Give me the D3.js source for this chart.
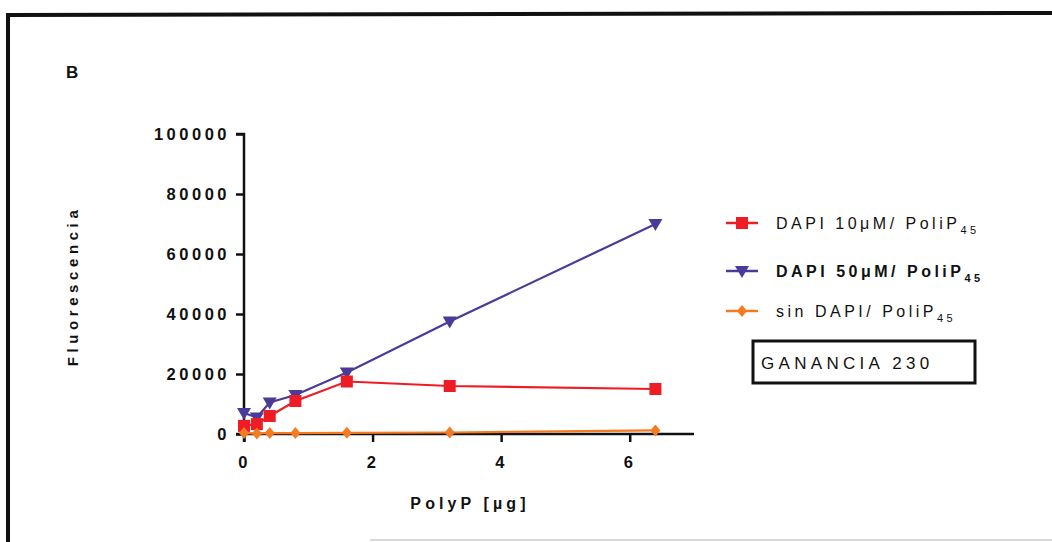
<!DOCTYPE html>
<meta charset="utf-8">
<script src="https://cdn.jsdelivr.net/npm/d3@7"></script>
<style>
body { margin: 0; background: #fff; }
text { font-family: "Liberation Sans", Arial, sans-serif; fill: #111; }
.tick text { font-weight: bold; font-size: 16.5px; letter-spacing: 3.5px; }
.title { font-weight: bold; font-size: 15px; letter-spacing: 4.6px; }
.leg { font-size: 16px; letter-spacing: 3.5px; }
</style>
<body>
<script>

// PolyP amount (µg)
var polyp = [0, 0.2, 0.4, 0.8, 1.6, 3.2, 6.4];
var dapi10 = [2700, 3300, 6000, 11000, 17500, 16000, 15000];
var dapi50 = [7000, 5500, 10500, 13000, 20500, 37500, 70000];
var sinDapi = [300, 200, 300, 300, 400, 500, 1200];

var xTicks = [0, 2, 4, 6];
var yTicks = [0, 20000, 40000, 60000, 80000, 100000];

var series = [
  {name: "DAPI 10\u03bcM/ PoliP", values: dapi10, color: "#ee1d25", symbol: "square", bold: false},
  {name: "DAPI 50\u03bcM/ PoliP", values: dapi50, color: "#4b3b98", symbol: "tri", bold: true},
  {name: "sin DAPI/ PoliP", values: sinDapi, color: "#f47b20", symbol: "diamond", bold: false}
];

var width = 1052, height = 542;

var svg = d3.select("body").append("svg")
    .attr("width", width)
    .attr("height", height);

// frame of the figure panel
svg.append("path")
    .attr("d", "M8,542 L8,15 L1052,13")
    .attr("fill", "none")
    .attr("stroke", "#111")
    .attr("stroke-width", 4);
svg.append("line")
    .attr("x1", 370).attr("x2", 1052)
    .attr("y1", 540).attr("y2", 540)
    .attr("stroke", "#ccc").attr("stroke-width", 1.5);

svg.append("text")
    .attr("x", 66).attr("y", 78)
    .style("font-weight", "bold").style("font-size", "17px")
    .text("B");

var x = d3.scaleLinear().domain([0, 7]).range([244, 694]);
var y = d3.scaleLinear().domain([0, 100000]).range([434, 134]);

var xAxis = svg.append("g")
    .attr("transform", "translate(0," + y(0) + ")")
    .call(d3.axisBottom(x).tickValues(xTicks).tickSize(8).tickPadding(14).tickFormat(d3.format("d")));
var yAxis = svg.append("g")
    .attr("transform", "translate(" + x(0) + ",0)")
    .call(d3.axisLeft(y).tickValues(yTicks).tickSize(8).tickPadding(6).tickFormat(d3.format("d")));

[xAxis, yAxis].forEach(function(g) {
  g.select(".domain").attr("stroke", "#111").attr("stroke-width", 2.5);
  g.selectAll(".tick line").attr("stroke", "#111").attr("stroke-width", 2.5);
  g.selectAll(".tick text").attr("fill", "#111");
});
yAxis.select(".domain").attr("d", "M-8," + y(100000) + "H0V" + (y(0) + 8));
xAxis.select(".domain").attr("d", "M" + (x(0) - 8) + ",0H" + x(7));

svg.append("text")
    .attr("class", "title")
    .attr("transform", "translate(78,286) rotate(-90)")
    .attr("text-anchor", "middle")
    .text("Fluorescencia");

svg.append("text")
    .attr("class", "title")
    .attr("x", 470).attr("y", 509)
    .attr("text-anchor", "middle")
    .style("font-size", "16px")
    .style("letter-spacing", "4.1px")
    .text("PolyP [\u00b5g]");

function marker(sel, s) {
  if (s.symbol == "square") {
    sel.append("rect").attr("x", -6).attr("y", -6).attr("width", 12).attr("height", 12).attr("fill", s.color);
  } else if (s.symbol == "tri") {
    sel.append("path").attr("d", "M-7,-5L7,-5L0,7Z").attr("fill", s.color);
  } else {
    sel.append("path").attr("d", "M0,-6L5,0L0,6L-5,0Z").attr("fill", s.color);
  }
}

var line = d3.line()
    .x(function(d) { return x(d[0]); })
    .y(function(d) { return y(d[1]); });

// draw in order so that orange sits above purple/red like the reference
[1, 0, 2].forEach(function(i) {
  var s = series[i];
  var pts = polyp.map(function(p, j) { return [p, s.values[j]]; });
  svg.append("path")
      .attr("d", line(pts))
      .attr("fill", "none")
      .attr("stroke", s.color)
      .attr("stroke-width", 2.2);
  svg.append("g").selectAll("g")
      .data(pts)
      .enter().append("g")
      .attr("transform", function(d) { return "translate(" + x(d[0]) + "," + y(d[1]) + ")"; })
      .each(function() { marker(d3.select(this), s); });
});

// legend
var legY = [223, 271, 311];
series.forEach(function(s, i) {
  var g = svg.append("g").attr("transform", "translate(742," + legY[i] + ")");
  g.append("line").attr("x1", -16).attr("x2", 16)
      .attr("stroke", s.color).attr("stroke-width", 2.5);
  marker(g, s);
  var t = g.append("text")
      .attr("class", "leg")
      .attr("x", 34).attr("y", 6)
      .style("font-weight", s.bold ? "bold" : "normal")
      .text(s.name);
  t.append("tspan")
      .attr("dy", 5)
      .style("font-size", "11px")
      .text("45");
});

svg.append("rect")
    .attr("x", 753).attr("y", 341)
    .attr("width", 222).attr("height", 42)
    .attr("fill", "none")
    .attr("stroke", "#111")
    .attr("stroke-width", 3);
svg.append("text")
    .attr("class", "leg")
    .attr("x", 761).attr("y", 369)
    .style("font-size", "17px")
    .style("letter-spacing", "4.3px")
    .text("GANANCIA 230");

</script>
</body>
